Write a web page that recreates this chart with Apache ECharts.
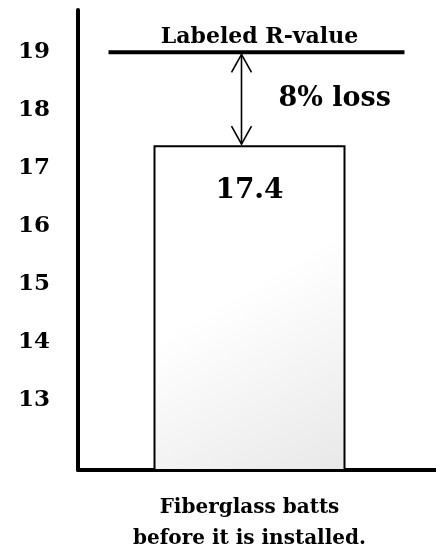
<!DOCTYPE html>
<html>
<head>
<meta charset="utf-8">
<script src="https://cdn.jsdelivr.net/npm/echarts@6/dist/echarts.min.js"></script>
<style>
  html, body { margin: 0; padding: 0; background: #fff; }
  #main { width: 436px; height: 550px; }
</style>
</head>
<body>
<div id="main"></div>
<script>
var categories = ['Fiberglass batts\nbefore it is installed.'];
var installedR = [17.4];
var labeledR = 19;
var labeledText = 'Labeled R-value';
var lossText = '8% loss';
var yTicks = [13, 14, 15, 16, 17, 18, 19];

var serif = 'DejaVu Serif';
var chart = echarts.init(document.getElementById('main'));

chart.setOption({
  animation: false,
  grid: { left: 78, right: 15, top: 10, bottom: 80, outerBoundsMode: 'none' },
  xAxis: {
    type: 'category',
    data: categories,
    axisLine: { lineStyle: { color: '#000', width: 4 } },
    axisTick: { show: false },
    axisLabel: {
      color: '#000', fontFamily: serif, fontWeight: 'bold',
      fontSize: 20, lineHeight: 31, margin: 22
    }
  },
  yAxis: {
    type: 'value',
    min: 11.8,
    max: 19.73,
    axisLine: { show: true, lineStyle: { color: '#000', width: 4 } },
    axisTick: { show: false },
    splitLine: { show: false },
    axisLabel: {
      customValues: yTicks,
      color: '#000', fontFamily: serif, fontWeight: 'bold',
      fontSize: 23, margin: 28
    }
  },
  series: [{
    type: 'bar',
    data: installedR,
    barWidth: 192,
    itemStyle: {
      color: new echarts.graphic.LinearGradient(0, 0, 1, 1, [
        { offset: 0, color: '#ffffff' },
        { offset: 0.45, color: '#ffffff' },
        { offset: 1, color: '#e8e8e8' }
      ]),
      borderColor: '#000',
      borderWidth: 2
    },
    label: {
      show: true, position: 'insideTop', distance: 32,
      formatter: '{c}', color: '#000', fontFamily: serif,
      fontWeight: 'bold', fontSize: 28
    }
  }]
});

// reference line, arrow and notes placed through the axes
var yTop = chart.convertToPixel({ yAxisIndex: 0 }, labeledR);
var yBar = chart.convertToPixel({ yAxisIndex: 0 }, installedR[0]);
var yBase = chart.convertToPixel({ yAxisIndex: 0 }, 11.8);
var xMid = chart.convertToPixel({ xAxisIndex: 0 }, categories[0]);
var ax = xMid - 8;
var arrowStyle = { stroke: '#000', lineWidth: 1.6, fill: null };

chart.setOption({
  graphic: [
    { type: 'line', shape: { x1: xMid + 150, y1: yBase, x2: 436, y2: yBase },
      style: { stroke: '#000', lineWidth: 4 } },
    { type: 'line', shape: { x1: xMid - 141, y1: yTop, x2: xMid + 155, y2: yTop },
      style: { stroke: '#000', lineWidth: 4 } },
    { type: 'text', x: xMid + 10, y: yTop - 15,
      style: { text: labeledText, fill: '#000', font: 'bold 22px ' + serif,
               textAlign: 'center', textVerticalAlign: 'middle' } },
    { type: 'line', shape: { x1: ax, y1: yTop + 2, x2: ax, y2: yBar - 1 }, style: arrowStyle },
    { type: 'polyline', shape: { points: [[ax - 10, yTop + 20], [ax, yTop + 2], [ax + 10, yTop + 20]] },
      style: arrowStyle },
    { type: 'polyline', shape: { points: [[ax - 10, yBar - 19], [ax, yBar - 1], [ax + 10, yBar - 19]] },
      style: arrowStyle },
    { type: 'text', x: ax + 37, y: (yTop + yBar) / 2,
      style: { text: lossText, fill: '#000', font: 'bold 27px ' + serif,
               textAlign: 'left', textVerticalAlign: 'middle' } }
  ]
});
</script>
</body>
</html>
